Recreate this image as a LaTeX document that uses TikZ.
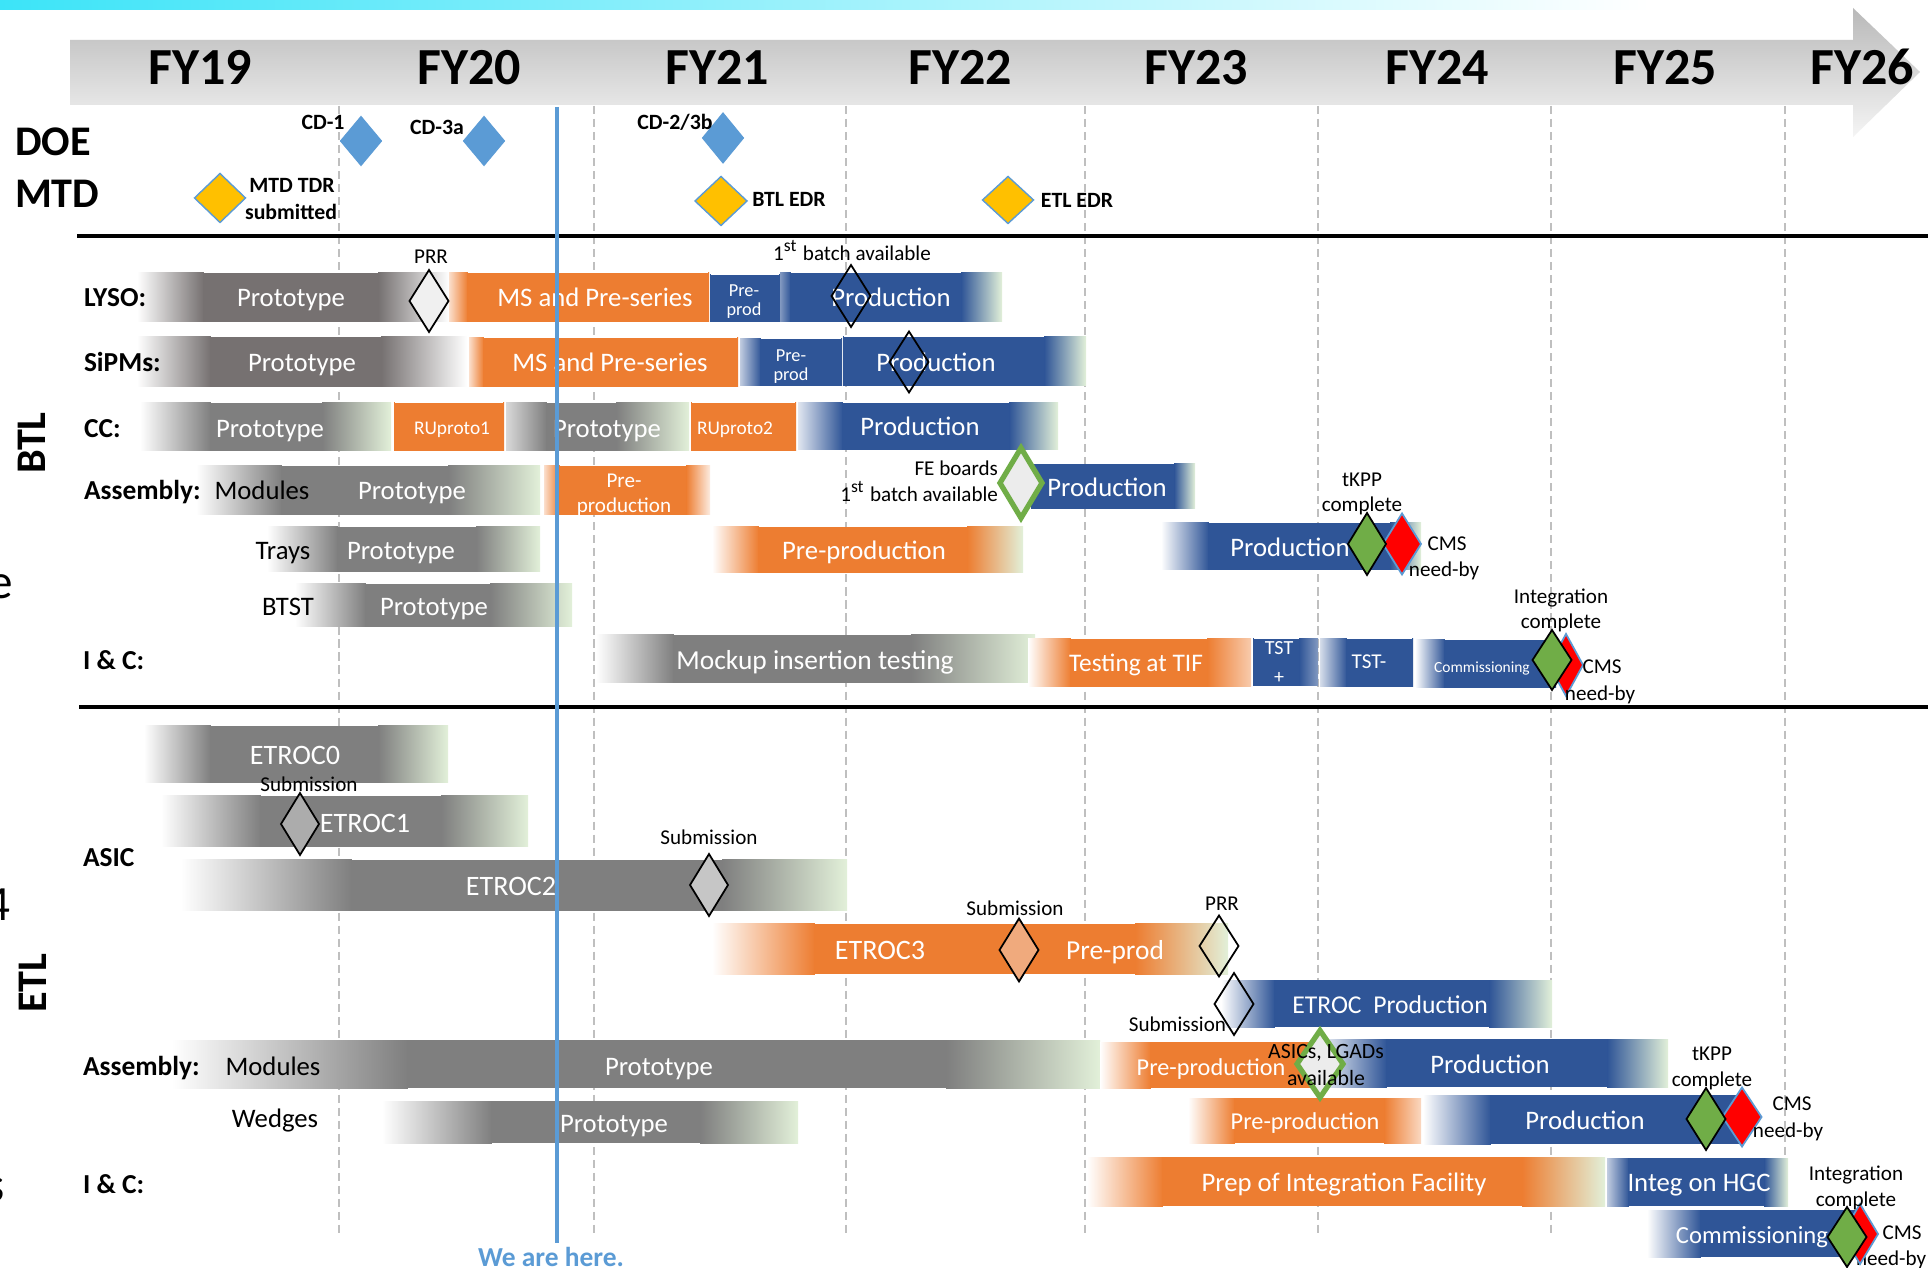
\documentclass[tikz,border=0pt]{standalone}
\usepackage{fontspec}
\setmainfont{Carlito}
\usetikzlibrary{shapes.geometric}
\definecolor{cgray}{RGB}{127,127,127}
\definecolor{wgray}{RGB}{118,113,113}
\definecolor{corange}{RGB}{237,125,49}
\definecolor{cblue}{RGB}{47,85,151}
\definecolor{lgreen}{RGB}{226,240,217}
\definecolor{lblue}{RGB}{91,155,213}
\definecolor{cyel}{RGB}{255,192,0}
\definecolor{cgreen}{RGB}{112,173,71}
\definecolor{cyanband}{RGB}{60,228,248}
\definecolor{lorange}{RGB}{240,170,125}
% bar: x1 x2 y1 y2 colour fadeL fadeR startcol endcol
\newcommand\gbar[9]{%
  \shade[left color=#8,right color=#5] (#1,#3) rectangle ({#1+#6+0.8},#4);
  \fill[#5] ({#1+#6},#3) rectangle ({#2-#7},#4);
  \shade[left color=#5,right color=#9] ({#2-#7-0.8},#3) rectangle (#2,#4);
}
\begin{document}
\begin{tikzpicture}[x=0.01cm,y=-0.01cm,
  every node/.style={inner sep=0pt,outer sep=0pt},
  fy/.style={font=\fontsize{14.8}{16}\selectfont\bfseries,anchor=base},
  sec/.style={font=\fontsize{12}{13}\selectfont\bfseries},
  bt/.style={text=white,font=\fontsize{7.6}{9}\selectfont,text height=6.3pt,text depth=0.9pt},
  bts/.style={text=white,font=\fontsize{5.2}{6}\selectfont,text height=4.3pt,text depth=0.6pt},
  rl/.style={font=\fontsize{7.6}{9}\selectfont,text height=6.3pt,text depth=0.9pt},
  rlb/.style={font=\fontsize{7.8}{9}\selectfont\bfseries,anchor=west,text height=6.4pt,text depth=0.9pt},
  ml/.style={font=\fontsize{6}{7}\selectfont,text height=5.2pt,text depth=0.6pt},
  mlb/.style={font=\fontsize{6.2}{7}\selectfont\bfseries,text height=4.9pt,text depth=0.8pt},
  dm/.style 2 args={diamond,minimum width=#1*0.01cm,minimum height=#2*0.01cm},
  gd/.style={fill=cgreen,draw=black,line width=0.5pt},
  rd/.style={fill=red,draw=lblue,line width=0.5pt},
  od/.style={draw=black,line width=0.5pt},
  fd/.style={draw=cgreen,line width=1.5pt,fill=gray!15},
  td/.style={fill=lblue,draw=lblue,line width=0.3pt},
  yd/.style={fill=cyel,draw=lblue,line width=0.4pt},
  dline/.style={gray!50,line width=0.35pt,dash pattern=on 2.3pt off 1.4pt},
]
\useasboundingbox (0,0) rectangle (1928,1268);
\fill[white] (0,0) rectangle (1928,1268);
% top band
\shade[left color=cyanband,right color=white] (0,0) rectangle (1650,10);
% timeline arrow
\shade[top color=gray!55,bottom color=gray!8]
  (70,40) -- (1853,40) -- (1853,8) -- (1920,72) -- (1853,137) -- (1853,105) -- (70,105) -- cycle;
\node[fy] (fy19) at (200,85) {FY19};
\node[fy] (fy20) at (469,85) {FY20};
\node[fy] (fy21) at (717,85) {FY21};
\node[fy] (fy22) at (960,85) {FY22};
\node[fy] (fy23) at (1196,85) {FY23};
\node[fy] (fy24) at (1437,85) {FY24};
\node[fy] (fy25) at (1665,85) {FY25};
\node[fy] (fy26) at (1862,85) {FY26};
% dashed year lines
\foreach \xx in {339,594,846,1085,1318,1551,1785}
  \draw[dline] (\xx,106) -- (\xx,1237);
% separators
\draw[line width=0.9pt] (77,236) -- (1928,236);
\draw[line width=0.9pt] (79,707) -- (1928,707);
% left fragments
\node[font=\fontsize{14}{15}\selectfont,anchor=base east] (frage) at (13,599) {e};
\node[font=\fontsize{14}{15}\selectfont,anchor=base east] (frag4) at (10,921) {4};
\node[font=\fontsize{14}{15}\selectfont,anchor=base east] (frag3) at (5,1201) {s};
% section labels
\node[sec,anchor=base west] (doe) at (15,156) {DOE};
\node[sec,anchor=base west] (mtd) at (15,208) {MTD};
\node[sec,rotate=90] (btl) at (32,443) {BTL};
\node[sec,rotate=90] (etl) at (33,983) {ETL};
% top milestones
\node[dm={41}{49},td] (cd1) at (361,141) {};
\node[dm={41}{49},td] (cd3a) at (484,141) {};
\node[dm={41}{50},td] (cd2) at (723,138) {};
\node[mlb] (lcd1) at (323,122) {CD-1};
\node[mlb] (lcd3a) at (437,127) {CD-3a};
\node[mlb] (lcd2) at (675,122) {CD-2/3b};
\node[dm={51}{49},yd] (tdr) at (220,198) {};
\node[dm={52}{49},yd] (bedr) at (721,201) {};
\node[dm={51}{47},yd] (eedr) at (1008,200) {};
\node[mlb] (ltdr1) at (292,185) {MTD TDR};
\node[mlb] (ltdr2) at (291,212) {submitted};
\node[mlb] (lbedr) at (789,199) {BTL EDR};
\node[mlb] (leedr) at (1077,200) {ETL EDR};
% ---------------- BTL bars
\gbar{137}{449}{273}{322}{wgray}{66}{70}{white}{white}
\gbar{449}{709}{273}{322}{corange}{18}{0}{corange!25}{corange}
\gbar{710}{780}{275}{322}{cblue}{0}{0}{cblue}{cblue}
\gbar{780}{1002}{273}{322}{cblue}{10}{40}{cblue!60}{lgreen}
\gbar{137}{467}{337}{387}{wgray}{73}{85}{white}{white}
\gbar{469}{738}{338}{387}{corange}{14}{0}{corange!25}{corange}
\gbar{740}{842}{339}{386}{cblue}{20}{0}{cblue!30}{cblue}
\gbar{843}{1086}{337}{386}{cblue}{0}{41}{cblue}{lgreen}
\gbar{140}{391}{403}{451}{cgray}{70}{68}{white}{lgreen}
\gbar{394}{504}{403}{451}{corange}{0}{0}{corange}{corange}
\gbar{506}{689}{403}{451}{cgray}{40}{72}{cgray!30}{lgreen}
\gbar{691}{796}{403}{451}{corange}{0}{0}{corange}{corange}
\gbar{798}{1058}{403}{450}{cblue}{44}{48}{cblue!15}{lgreen}
\gbar{196}{540}{466}{515}{cgray}{85}{91}{white}{lgreen}
\gbar{544}{710}{466}{515}{corange}{15}{23}{corange!25}{corange!15}
\gbar{1031}{1195}{464}{509}{cblue}{0}{20}{cblue}{lgreen}
\gbar{267}{540}{527}{572}{cgray}{70}{63}{white}{lgreen}
\gbar{712}{1023}{527}{573}{corange}{46}{55}{white}{lgreen}
\gbar{1161}{1421}{523}{570}{cblue}{47}{30}{white}{lgreen}
\gbar{295}{572}{584}{627}{cgray}{70}{81}{white}{lgreen}
\gbar{596}{1035}{635}{683}{cgray}{77}{123}{white}{lgreen}
\gbar{1028}{1251}{639}{687}{corange}{42}{43}{white}{corange!40}
\gbar{1253}{1318}{639}{686}{cblue}{0}{18}{cblue}{cblue!60}
\gbar{1320}{1413}{639}{687}{cblue}{26}{0}{cblue!20}{cblue}
\gbar{1415}{1556}{640}{688}{cblue}{29}{0}{white}{cblue}
% ---------------- ETL bars
\gbar{144}{448}{726}{783}{cgray}{66}{69}{white}{lgreen}
\gbar{161}{528}{796}{847}{cgray}{99}{86}{white}{lgreen}
\gbar{181}{847}{860}{911}{cgray}{170}{124}{white}{lgreen}
\gbar{712}{1228}{924}{974}{corange}{102}{92}{white}{lgreen}
\gbar{1221}{1552}{980}{1027}{cblue}{53}{62}{white}{lgreen}
\gbar{172}{1100}{1040}{1088}{cgray}{235}{153}{white}{lgreen}
\gbar{1100}{1326}{1042}{1088}{corange}{50}{0}{white}{corange}
\gbar{1326}{1668}{1039}{1087}{cblue}{60}{60}{cblue!15}{lgreen}
\gbar{382}{798}{1101}{1143}{cgray}{109}{97}{white}{lgreen}
\gbar{1188}{1421}{1098}{1143}{corange}{46}{36}{white}{corange!30}
\gbar{1423}{1742}{1095}{1144}{cblue}{67}{0}{white}{cblue}
\gbar{1087}{1605}{1157}{1206}{corange}{75}{82}{white}{lgreen}
\gbar{1607}{1788}{1158}{1206}{cblue}{21}{23}{cblue!30}{lgreen}
\gbar{1647}{1857}{1210}{1257}{cblue}{53}{0}{white}{cblue}
% ---------------- row labels
\node[rlb] (llyso) at (84,297) {LYSO:};
\node[rlb] (lsipm) at (84,362) {SiPMs:};
\node[rlb] (lcc) at (84,428) {CC:};
\node[rlb] (lasb) at (84,490) {Assembly:};
\node[rlb] (licb) at (83,660) {I \& C:};
\node[rlb] (lasic) at (83,857) {ASIC};
\node[rlb] (lase) at (83,1066) {Assembly:};
\node[rlb] (lice) at (83,1184) {I \& C:};
\node[rl] (lmodb) at (262,490) {Modules};
\node[rl] (ltrays) at (283,550) {Trays};
\node[rl] (lbtst) at (288,606) {BTST};
\node[rl] (lmode) at (273,1066) {Modules};
\node[rl] (lwedg) at (275,1118) {Wedges};
% ---------------- bar texts BTL
\node[bt] (t1) at (291,297) {Prototype};
\node[bt] (t2) at (595,297) {MS and Pre-series};
\node[bts] (t3a) at (744,290) {Pre-};
\node[bts] (t3b) at (744,309) {prod};
\node[bt] (t4) at (891,297) {Production};
\node[bt] (t5) at (302,362) {Prototype};
\node[bt] (t6) at (610,362) {MS and Pre-series};
\node[bts] (t7a) at (791,355) {Pre-};
\node[bts] (t7b) at (791,374) {prod};
\node[bt] (t8) at (936,362) {Production};
\node[bt] (t9) at (270,428) {Prototype};
\node[bts,font=\fontsize{5.5}{6}\selectfont] (t10) at (452,428) {RUproto1};
\node[bt] (t11) at (607,428) {Prototype};
\node[bts,font=\fontsize{5.5}{6}\selectfont] (t12) at (735,428) {RUproto2};
\node[bt] (t13) at (920,426) {Production};
\node[bt] (t14) at (412,490) {Prototype};
\node[bt,font=\fontsize{6}{7}\selectfont] (t15a) at (624,478) {Pre-};
\node[bt,font=\fontsize{6}{7}\selectfont] (t15b) at (624,503) {production};
\node[bt] (t16) at (1107,487) {Production};
\node[bt] (t17) at (401,550) {Prototype};
\node[bt] (t18) at (864,550) {Pre-production};
\node[bt] (t19) at (1290,547) {Production};
\node[bt] (t20) at (434,606) {Prototype};
\node[bt,font=\fontsize{7.8}{9}\selectfont] (t21) at (815,660) {Mockup insertion testing};
\node[bt,font=\fontsize{7.2}{8}\selectfont] (t22) at (1136,662) {Testing at TIF};
\node[bts,font=\fontsize{5.7}{6}\selectfont] (t23a) at (1279,648) {TST};
\node[bts,font=\fontsize{5.7}{6}\selectfont] (t23b) at (1279,677) {+};
\node[bts,font=\fontsize{6}{7}\selectfont] (t24) at (1369,662) {TST-};
\node[bts,font=\fontsize{4.4}{5}\selectfont] (t25) at (1482,666) {Commissioning};
% ---------------- bar texts ETL
\node[bt,font=\fontsize{8}{9}\selectfont] (e1) at (295,755) {ETROC0};
\node[bt,font=\fontsize{8}{9}\selectfont] (e2) at (365,823) {ETROC1};
\node[bt,font=\fontsize{8}{9}\selectfont] (e3) at (511,886) {ETROC2};
\node[bt,font=\fontsize{8}{9}\selectfont] (e4) at (880,950) {ETROC3};
\node[bt,font=\fontsize{7.8}{9}\selectfont] (e5) at (1115,950) {Pre-prod};
\node[bt,font=\fontsize{7.3}{9}\selectfont] (e6) at (1390,1004) {ETROC\ \ Production};
\node[bt] (e7) at (659,1066) {Prototype};
\node[bt,font=\fontsize{6.9}{8}\selectfont] (e8) at (1211,1066) {Pre-production};
\node[bt] (e9) at (1490,1064) {Production};
\node[bt] (e10) at (614,1123) {Prototype};
\node[bt,font=\fontsize{6.9}{8}\selectfont] (e11) at (1305,1120) {Pre-production};
\node[bt] (e12) at (1585,1120) {Production};
\node[bt] (e13) at (1344,1182) {Prep of Integration Facility};
\node[bt] (e14) at (1699,1182) {Integ on HGC};
\node[bt,font=\fontsize{7}{8}\selectfont] (e15) at (1752,1234) {Commissioning};
\node[ml,anchor=west] (m30) at (1856,1257) {need-by};
% ---------------- milestones BTL
\node[dm={39}{62},od,fill=gray!12] (prr1) at (429,301) {};
\node[ml] (m1) at (431,255) {PRR};
\node[dm={39}{62},od] (d2) at (851,296) {};
\node[ml] (m2) at (852,252) {1\textsuperscript{st} batch available};
\node[dm={39}{61},od] (d3) at (909,362) {};
\node[dm={42}{70},fd] (fe) at (1021,483) {};
\node[ml,anchor=east] (m3) at (998,467) {FE boards};
\node[ml,anchor=east] (m4) at (998,493) {1\textsuperscript{st} batch available};
\node[dm={38}{61},rd] (r1) at (1402,544) {};
\node[dm={38}{62},gd] (g1) at (1367,544) {};
\node[ml] (m5) at (1362,478) {tKPP};
\node[ml] (m6) at (1362,503) {complete};
\node[ml] (m7) at (1447,542) {CMS};
\node[ml] (m8) at (1444,568) {need-by};
\node[dm={34}{62},rd] (r2) at (1566,665) {};
\node[dm={39}{60},gd] (g2) at (1552,660) {};
\node[ml] (m9) at (1561,595) {Integration};
\node[ml] (m10) at (1561,620) {complete};
\node[ml] (m11) at (1602,665) {CMS};
\node[ml] (m12) at (1600,692) {need-by};
% ---------------- milestones ETL
\node[dm={38}{62},od,fill=gray!65] (s1) at (300,824) {};
\node[ml] (m13) at (309,783) {Submission};
\node[dm={38}{62},od,fill=gray!45] (s2) at (709,885) {};
\node[ml] (m14) at (709,836) {Submission};
\node[dm={39}{63},od,fill=lorange] (s3) at (1019,950) {};
\node[ml] (m15) at (1015,907) {Submission};
\node[dm={39}{61},od] (prr2) at (1219,946) {};
\node[ml] (m16) at (1222,902) {PRR};
\node[dm={39}{62},od] (s4) at (1234,1004) {};
\node[ml,anchor=east] (m17) at (1226,1023) {Submission};
\node[dm={46}{67},fd] (asic) at (1320,1064) {};
\node[ml,font=\fontsize{6.2}{7}\selectfont] (m18) at (1326,1050) {ASICs, LGADs};
\node[ml,font=\fontsize{6.2}{7}\selectfont] (m19) at (1326,1077) {available};
\node[dm={39}{59},rd] (r3) at (1742,1117) {};
\node[dm={39}{62},gd] (g3) at (1706,1119) {};
\node[ml] (m20) at (1712,1052) {tKPP};
\node[ml] (m21) at (1712,1078) {complete};
\node[ml] (m22) at (1792,1102) {CMS};
\node[ml] (m23) at (1788,1129) {need-by};
\node[dm={36}{60},rd] (r4) at (1860,1234) {};
\node[dm={39}{60},gd] (g4) at (1847,1237) {};
\node[ml] (m24) at (1856,1172) {Integration};
\node[ml] (m25) at (1856,1198) {complete};
\node[ml] (m26) at (1902,1231) {CMS};
% ---------------- we are here
\draw[lblue,line width=1.4pt] (557,107) -- (557,1243);
\node[font=\fontsize{7.8}{9}\selectfont\bfseries,text=lblue,anchor=base] (here) at (551,1266) {We are here.};
\end{tikzpicture}
\end{document}
